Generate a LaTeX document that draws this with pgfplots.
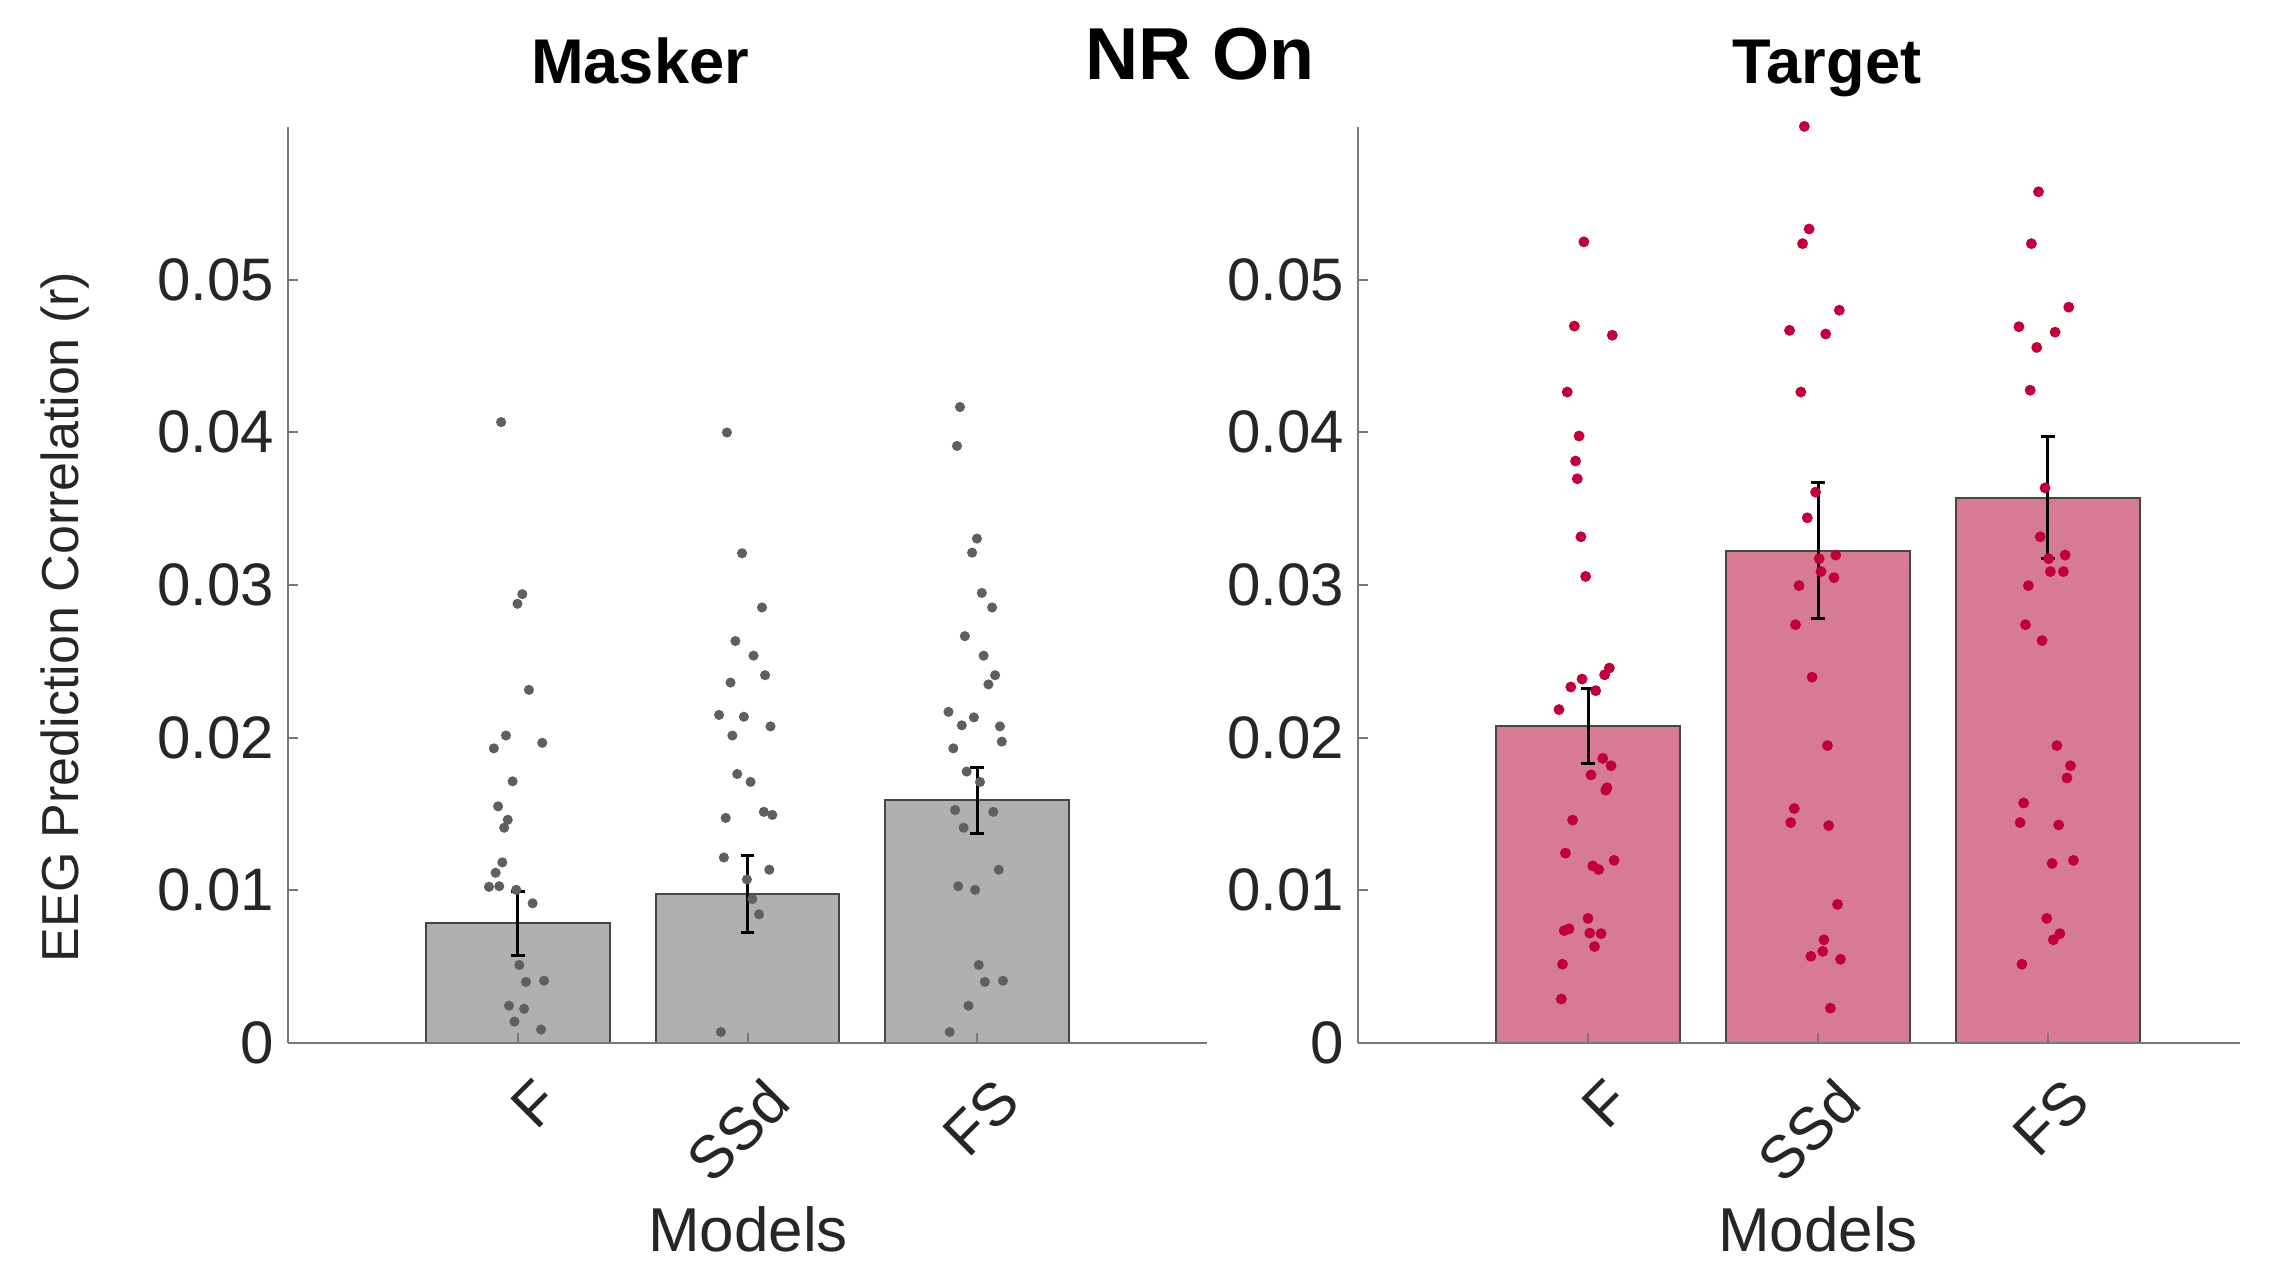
\documentclass[border=0pt]{standalone}
\usepackage{pgfplots}
\pgfplotsset{compat=1.18}
\usepackage{pgfplotstable}
\usepackage{fontspec}
\setmainfont{Liberation Sans}
\definecolor{grbar}{RGB}{176,176,176}
\definecolor{grpt}{RGB}{95,95,95}
\definecolor{pkbar}{RGB}{215,123,148}
\definecolor{rdpt}{RGB}{193,0,58}
\definecolor{axgray}{RGB}{120,120,120}
\definecolor{edgegray}{RGB}{70,70,70}
\definecolor{tickgray}{RGB}{38,38,38}

\pgfplotstableread{
x y e
1 0.00783 0.00212
2 0.00975 0.00252
3 0.01590 0.00216
}\maskerbars
\pgfplotstableread{
x y e
1 0.02076 0.00244
2 0.03224 0.00446
3 0.03572 0.00398
}\targetbars

\pgfplotstableread{
x y
0.9275 0.04067
1.0198 0.0294
0.9987 0.02877
1.0487 0.02313
0.9486 0.02014
1.1067 0.01966
0.8959 0.0193
0.9776 0.01714
0.9144 0.0155
0.9565 0.01462
0.9407 0.0141
0.9328 0.01183
0.9038 0.01115
0.8748 0.01023
0.9196 0.01027
0.9934 0.01003
1.0646 0.00915
1.0066 0.00511
1.0356 0.004
1.1146 0.00408
0.9618 0.00244
1.0277 0.00224
0.9855 0.0014
1.1014 0.00088
1.9104 0.03999
1.9763 0.03208
2.0632 0.02853
1.9473 0.02633
2.0263 0.02537
2.0764 0.02409
1.9262 0.02361
1.8762 0.02149
1.9842 0.02137
2.1001 0.02074
1.9341 0.02014
1.9552 0.01762
2.0132 0.0171
2.0711 0.01514
2.1080 0.01494
1.9051 0.01474
1.8972 0.01215
2.0949 0.01135
1.9974 0.01071
2.0211 0.00943
2.0501 0.00843
1.8841 0.00072
2.9249 0.04166
2.9117 0.03911
2.9987 0.03304
2.9776 0.03212
3.0198 0.02948
3.0646 0.02853
2.9460 0.02665
3.0277 0.02537
3.0777 0.02409
3.0487 0.02349
2.8748 0.02169
2.9855 0.02133
2.9328 0.02081
3.0988 0.02074
3.1067 0.01974
2.8959 0.0193
2.9539 0.01778
3.0119 0.0171
2.9038 0.01526
3.0698 0.01514
2.9407 0.0141
3.0935 0.01135
2.9170 0.01027
2.9908 0.01003
3.0066 0.00511
3.0329 0.004
3.1120 0.00408
2.9618 0.00244
2.8800 0.00072
}\maskerpts

\pgfplotstableread{
x y
0.982 0.05248
0.9407 0.04696
1.1057 0.04636
0.9098 0.04264
0.9613 0.03976
0.9459 0.03812
0.9536 0.03696
0.9691 0.03316
0.9897 0.03056
1.0928 0.02456
1.0722 0.02412
0.9742 0.02384
0.9253 0.02332
1.0335 0.02308
0.8737 0.02184
1.0644 0.01864
1.1005 0.01816
1.0129 0.01756
1.0825 0.01672
1.0773 0.01656
0.933 0.0146
0.902 0.01244
1.1134 0.01196
1.0206 0.0116
1.0464 0.01136
1.0 0.00816
0.8969 0.00736
0.9175 0.00748
1.0077 0.0072
1.0567 0.00716
1.0284 0.00632
0.8892 0.00516
0.884 0.00288
1.9407 0.06004
1.9613 0.05332
1.933 0.05236
2.0928 0.048
1.8763 0.04668
2.0335 0.04644
1.9253 0.04264
1.9897 0.03608
1.9536 0.0344
2.0052 0.03172
2.0773 0.03196
2.0129 0.03088
2.0696 0.03048
1.9175 0.02996
1.9021 0.0274
1.9742 0.02396
2.0412 0.01948
1.8969 0.01536
1.8814 0.01444
2.0464 0.01424
2.085 0.00908
2.0258 0.00676
1.9691 0.00568
2.0206 0.006
2.0979 0.00548
2.0541 0.00228
2.9588 0.05576
2.9278 0.05236
3.0902 0.0482
2.8737 0.04692
3.0309 0.04656
2.9510 0.04556
2.9227 0.04276
2.9871 0.03636
2.9665 0.03316
3.0026 0.03172
3.0747 0.03196
3.0103 0.03088
3.067 0.03088
2.9149 0.02996
2.9021 0.0274
2.9742 0.02636
3.0387 0.01948
3.0979 0.01816
3.0825 0.01736
2.8943 0.01572
2.8789 0.01444
3.0464 0.01428
3.1108 0.01196
3.018 0.01176
2.9948 0.00816
3.0515 0.00716
3.0232 0.00676
2.8866 0.00516
}\targetpts

\pgfplotsset{
  myax/.style={
    scale only axis,
    height=229pt,
    ymin=0, ymax=0.06,
    xmin=0,
    axis x line*=bottom,
    axis y line*=left,
    axis line style={color=axgray, line width=0.6pt},
    axis on top,
    clip=false,
    tick align=inside,
    major tick length=2.5pt,
    tick style={color=axgray, line width=0.5pt},
    ytick={0,0.01,0.02,0.03,0.04,0.05},
    yticklabels={0,0.01,0.02,0.03,0.04,0.05},
    scaled y ticks=false,
    xtick={1,2,3},
    xticklabels={F,SSd,FS},
    ticklabel style={font=\fontsize{15}{18}\selectfont, text=tickgray},
    xticklabel style={xshift=7.75pt, yshift=-11.75pt, inner sep=0pt, rotate=45, anchor=east},
    /pgf/number format/assume math mode=true,
  },
  errstyle/.style={
    draw=none, forget plot,
    error bars/.cd,
      y dir=both, y explicit,
      error bar style={draw=black, line width=0.75pt},
      error mark options={draw=black, rotate=90, mark size=1.7pt, line width=0.75pt},
  },
}

\begin{document}
\begin{tikzpicture}
\useasboundingbox (0,0) rectangle (568pt,315.5pt);
\fill[white] (0,0) rectangle (568pt,315.5pt);

\begin{axis}[myax, at={(72pt,54.75pt)}, anchor=south west, width=229.75pt, xmax=4]
\addplot[ybar, bar width=0.8, bar shift=0pt, fill=grbar, draw=edgegray, line width=0.5pt] table[x=x, y=y] {\maskerbars};
\addplot[only marks, mark=*, mark size=1.05pt, color=grpt, mark options={draw=none, fill=grpt}] table[x=x, y=y] {\maskerpts};
\addplot[errstyle] table[x=x, y=y, y error=e] {\maskerbars};
\end{axis}

\begin{axis}[myax, at={(339.5pt,54.75pt)}, anchor=south west, width=220.5pt, xmax=3.835]
\addplot[ybar, bar width=0.8, bar shift=0pt, fill=pkbar, draw=edgegray, line width=0.5pt] table[x=x, y=y] {\targetbars};
\addplot[only marks, mark=*, mark size=1.15pt, color=rdpt, mark options={draw=none, fill=rdpt}] table[x=x, y=y] {\targetpts};
\addplot[errstyle] table[x=x, y=y, y error=e] {\targetbars};
\end{axis}

\node[rotate=90, font=\fontsize{13}{15}\selectfont, text=tickgray] at (16.25pt,161.25pt) {EEG Prediction Correlation (r)};
\node[anchor=base, font=\fontsize{15.5}{18}\selectfont, text=tickgray] at (187pt,2.5pt) {Models};
\node[anchor=base, font=\fontsize{15.5}{18}\selectfont, text=tickgray] at (454.5pt,2.5pt) {Models};
\node[anchor=base, font=\bfseries\fontsize{18.4}{22}\selectfont] at (300pt,295.6pt) {NR On};
\node[anchor=base, font=\bfseries\fontsize{15.8}{19}\selectfont] at (160pt,294.5pt) {Masker};
\node[anchor=base, font=\bfseries\fontsize{15.8}{19}\selectfont] at (456.75pt,294.5pt) {Target};
\end{tikzpicture}
\end{document}
